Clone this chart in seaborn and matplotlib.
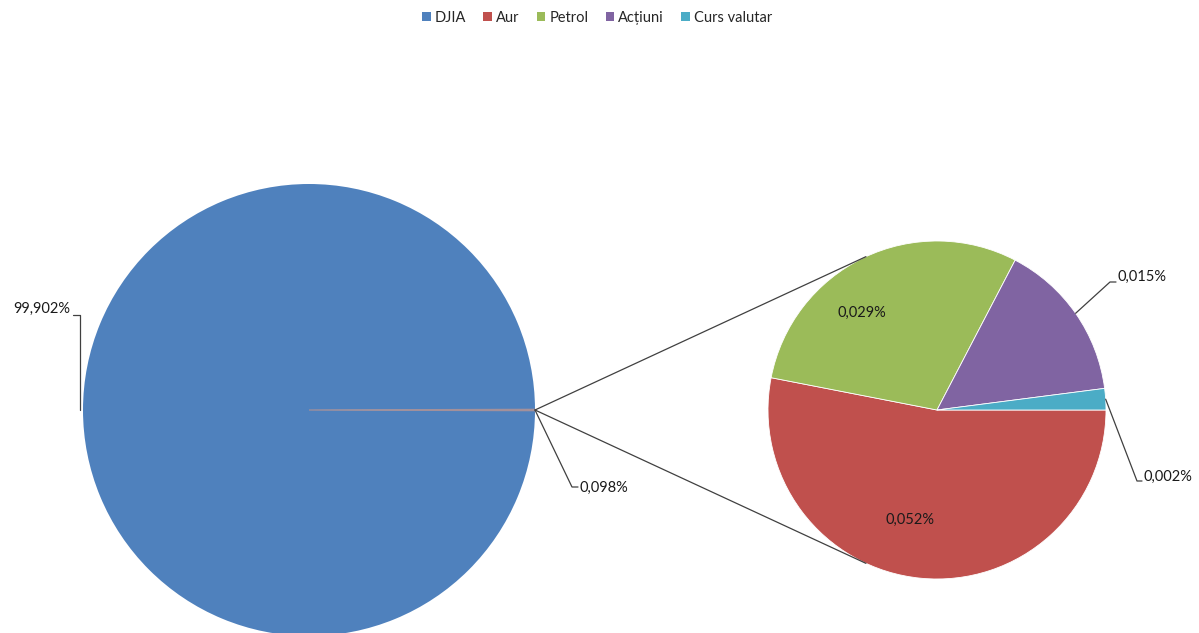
import numpy as np
import matplotlib
matplotlib.use("Agg")
import matplotlib.pyplot as plt
from matplotlib.patches import Patch
import seaborn as sns

# Share of each asset (percent)
categories = ["DJIA", "Aur", "Petrol", "Acțiuni", "Curs valutar"]
shares = [99.902, 0.052, 0.029, 0.015, 0.002]
colors = ["#4F81BD", "#C0504D", "#9BBB59", "#8064A2", "#4BACC6"]

sns.set_theme(style="white")
plt.rcParams["font.family"] = ["Lato", "DejaVu Sans"]

W, H = 1199, 633
fig = plt.figure(figsize=(W / 100, H / 100), dpi=100)
ax = fig.add_axes([0, 0, 1, 1])


def Y(y):
    return H - y


def fmt(v):
    return f"{v:.3f}%".replace(".", ",")


txt_kw = dict(fontsize=10.5, color="#1a1a1a")
line_kw = dict(color="#404040", lw=0.9)

# Main pie: DJIA against the grouped remainder
main_c = np.array([309.0, Y(410)])
main_r = 226.0
other_total = sum(shares[1:])
main_vals = [shares[0], other_total]
sns_pal = sns.color_palette(colors)
wedges, _ = ax.pie(main_vals, colors=[sns_pal[0], "#a3909a"],
                   startangle=-other_total / 100 * 180, counterclock=False,
                   center=main_c, radius=main_r,
                   wedgeprops=dict(edgecolor="none", linewidth=0))
wedges[1].set_edgecolor("#a3909a")
wedges[1].set_linewidth(0.9)

# Secondary pie: breakdown of the remainder
sec_c = np.array([937.0, Y(410)])
sec_r = 169.0
sec_vals = shares[1:]
ax.pie(sec_vals, colors=sns_pal[1:], startangle=0, counterclock=False,
       center=sec_c, radius=sec_r,
       wedgeprops=dict(edgecolor="white", linewidth=0.6))

# Pixel-based canvas coordinates (set after pie, which resets limits)
ax.set_xlim(0, W)
ax.set_ylim(0, H)
ax.set_aspect("equal")
ax.axis("off")

# Connector lines: tangents from the grouped slice to the secondary pie
p = main_c + np.array([main_r, 0.0])
d = np.linalg.norm(sec_c - p)
theta = np.arccos(sec_r / d)
for sgn in (1, -1):
    ang = np.pi - sgn * theta
    q = sec_c + sec_r * np.array([np.cos(ang), np.sin(ang)])
    ax.plot([p[0], q[0]], [p[1], q[1]], **line_kw)

# Labels of the main pie
ax.plot([80, 80, 73], [Y(410), Y(315), Y(315)], **line_kw)
ax.text(70, Y(309), fmt(shares[0]), ha="right", va="center", **txt_kw)
ax.plot([p[0], 572, 578], [p[1], Y(487), Y(487)], **line_kw)
ax.text(580, Y(488), fmt(other_total), ha="left", va="center", **txt_kw)

# Labels of the secondary pie
ax.text(862, Y(313), fmt(shares[2]), ha="center", va="center", **txt_kw)
ax.text(910, Y(520), fmt(shares[1]), ha="center", va="center", **txt_kw)

cum = np.cumsum([0] + sec_vals) / sum(sec_vals) * 360
mid = -(cum[:-1] + cum[1:]) / 2
a = np.deg2rad(mid[2])
s = sec_c + sec_r * np.array([np.cos(a), np.sin(a)])
ax.plot([s[0], 1110, 1116], [s[1], Y(282), Y(282)], **line_kw)
ax.text(1118, Y(277), fmt(shares[3]), ha="left", va="center", **txt_kw)
a = np.deg2rad(mid[3])
s = sec_c + sec_r * np.array([np.cos(a), np.sin(a)])
ax.plot([s[0], 1137, 1142], [s[1], Y(481), Y(481)], **line_kw)
ax.text(1144, Y(477), fmt(shares[4]), ha="left", va="center", **txt_kw)

# Legend
handles = [Patch(facecolor=c, edgecolor="none") for c in sns_pal]
fig.legend(handles, categories, loc="center", bbox_to_anchor=(597 / W, 1 - 18 / H),
           ncol=5, frameon=False, fontsize=10.5, handlelength=0.6, handleheight=0.6,
           handletextpad=0.25, columnspacing=1.2)

fig.savefig("out.png", dpi=100)
